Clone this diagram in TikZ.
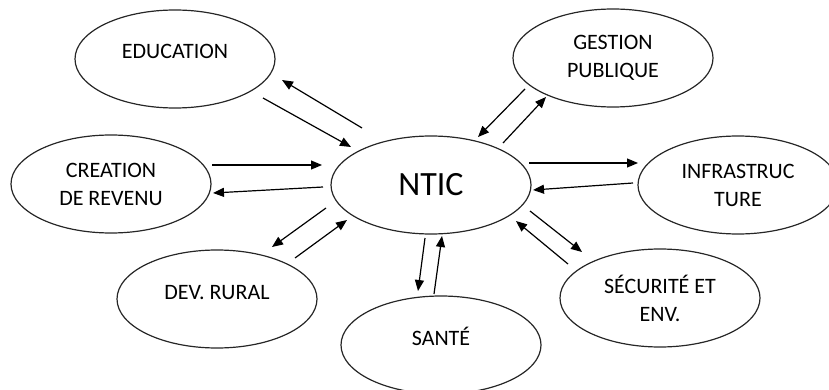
\documentclass[tikz,border=0pt]{standalone}
\usepackage{fontspec}
\setmainfont{Carlito}
\usetikzlibrary{shapes.geometric, arrows.meta, positioning}

\begin{document}
\begin{tikzpicture}[x=0.5pt, y=-0.5pt,
  bubble/.style={draw=black!85, line width=0.6pt, ellipse, minimum width=100pt, minimum height=49pt, inner sep=0pt, align=center, font=\fontsize{11}{14}\selectfont},
  oneline/.style={text height=8pt, text depth=8pt},
  arr/.style={-{Triangle[length=5.5pt, width=4.5pt]}, line width=0.6pt}]
  \useasboundingbox (0,0) rectangle (829,390);

  % centre
  \node[bubble, font=\fontsize{17}{20}\selectfont] (ntic) at (431,185) {NTIC};

  % domaines
  \node[bubble, oneline] (educ) at (175,59) {EDUCATION};
  \node[bubble] (gestion) at (613,58) {GESTION\\PUBLIQUE};
  \node[bubble] (revenu) at (111,184) {CREATION\\DE REVENU};
  \node[bubble] (infra) at (738,185) {INFRASTRUC\\TURE};
  \node[bubble, oneline] (rural) at (217,299) {DEV. RURAL};
  \node[bubble, oneline] (sante) at (441,345) {SANTÉ};
  \node[bubble] (secu) at (660,298) {SÉCURITÉ ET\\ENV.};

  % bouts des fleches
  \coordinate (educ-out-a) at (362,128);
  \coordinate (educ-out-b) at (282,80);
  \coordinate (educ-in-a) at (263,98);
  \coordinate (educ-in-b) at (351,147);
  \coordinate (rev-in-a) at (212,165);
  \coordinate (rev-in-b) at (322,165);
  \coordinate (rev-out-a) at (323,187);
  \coordinate (rev-out-b) at (213,193);
  \coordinate (gest-in-a) at (525,89);
  \coordinate (gest-in-b) at (478,137);
  \coordinate (gest-out-a) at (503,143);
  \coordinate (gest-out-b) at (546,97);
  \coordinate (infra-out-a) at (529,163);
  \coordinate (infra-out-b) at (638,163);
  \coordinate (infra-in-a) at (633,183);
  \coordinate (infra-in-b) at (533,190);
  \coordinate (rural-out-a) at (326,208);
  \coordinate (rural-out-b) at (272,247);
  \coordinate (rural-in-a) at (295,258);
  \coordinate (rural-in-b) at (347,220);
  \coordinate (sante-out-a) at (425,238);
  \coordinate (sante-out-b) at (418,291);
  \coordinate (sante-in-a) at (434,294);
  \coordinate (sante-in-b) at (442,236);
  \coordinate (secu-out-a) at (530,211);
  \coordinate (secu-out-b) at (582,252);
  \coordinate (secu-in-a) at (568,264);
  \coordinate (secu-in-b) at (516,221);

  % fleches
  \draw[arr] (educ-out-a) -- (educ-out-b);
  \draw[arr] (educ-in-a) -- (educ-in-b);
  \draw[arr] (rev-in-a) -- (rev-in-b);
  \draw[arr] (rev-out-a) -- (rev-out-b);
  \draw[arr] (gest-in-a) -- (gest-in-b);
  \draw[arr] (gest-out-a) -- (gest-out-b);
  \draw[arr] (infra-out-a) -- (infra-out-b);
  \draw[arr] (infra-in-a) -- (infra-in-b);
  \draw[arr] (rural-out-a) -- (rural-out-b);
  \draw[arr] (rural-in-a) -- (rural-in-b);
  \draw[arr] (sante-out-a) -- (sante-out-b);
  \draw[arr] (sante-in-a) -- (sante-in-b);
  \draw[arr] (secu-out-a) -- (secu-out-b);
  \draw[arr] (secu-in-a) -- (secu-in-b);
\end{tikzpicture}
\end{document}
